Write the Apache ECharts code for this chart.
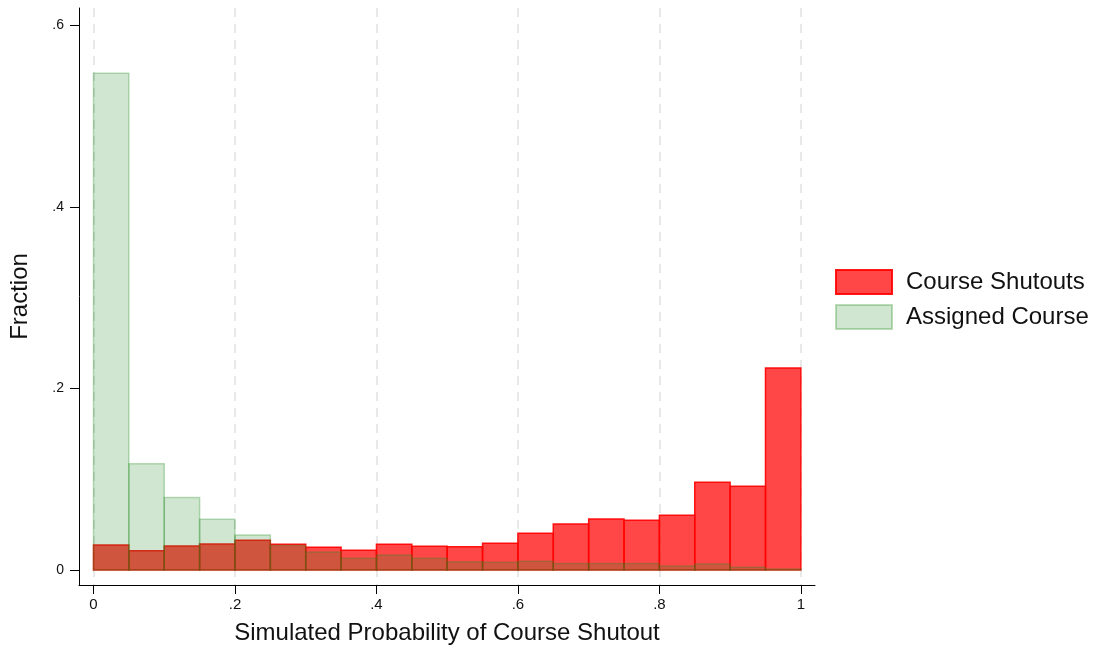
<!DOCTYPE html>
<html>
<head>
<meta charset="utf-8">
<script src="https://cdn.jsdelivr.net/npm/echarts@6/dist/echarts.min.js"></script>
<style>html,body{margin:0;padding:0;background:#fff;}#c{width:1095px;height:650px;}</style>
</head>
<body>
<div id="c"></div>
<script>
// Histogram bins (left edges), width 0.05
const binLeft = [0,0.05,0.1,0.15,0.2,0.25,0.3,0.35,0.4,0.45,0.5,0.55,0.6,0.65,0.7,0.75,0.8,0.85,0.9,0.95];
const binWidth = 0.05;
const shutoutFraction = [0.0275,0.0213,0.0264,0.0286,0.0327,0.0283,0.025,0.0217,0.0283,0.0261,0.0257,0.0294,0.0404,0.0507,0.0562,0.0547,0.0602,0.0966,0.0922,0.2225];
const assignedFraction = [0.547,0.117,0.080,0.0558,0.0385,0.027,0.0198,0.0129,0.0165,0.0129,0.0092,0.0085,0.0096,0.0073,0.0073,0.0073,0.0044,0.0066,0.003,0.001];
const xTicks = [0,0.2,0.4,0.6,0.8,1];
const yTicks = [0,0.2,0.4,0.6];
const seriesNames = ['Course Shutouts','Assigned Course'];

function fmt(v){ if (v === 0) return '0'; if (v === 1) return '1'; return String(+v.toFixed(1)).replace(/^0/,''); }

function makeData(vals){ return binLeft.map((l,i)=>[l, l+binWidth, vals[i]]); }

function renderBar(params, api){
  const p0 = api.coord([api.value(0), api.value(2)]);
  const p1 = api.coord([api.value(1), 0]);
  return {
    type: 'rect',
    shape: {x: p0[0], y: p0[1], width: p1[0]-p0[0], height: p1[1]-p0[1]},
    style: api.style()
  };
}

const chart = echarts.init(document.getElementById('c'), null, {renderer:'canvas'});
chart.setOption({
  animation: false,
  textStyle: {fontFamily: 'Liberation Sans, Arial, sans-serif'},
  grid: {left: 79, right: 280, top: 8, bottom: 65, containLabel: false},
  legend: {
    orient: 'vertical', left: 835, top: 269, padding: 0,
    itemWidth: 56, itemHeight: 24, itemGap: 9,
    icon: 'rect',
    textStyle: {fontSize: 24, color: '#111', padding: [0,0,0,9]},
    data: seriesNames
  },
  xAxis: {
    type: 'value', min: -0.0205, max: 1.02, splitNumber: 5,
    name: 'Simulated Probability of Course Shutout', nameLocation: 'middle', nameGap: 36,
    nameTextStyle: {fontSize: 24, color: '#111'},
    axisLine: {show: true, onZero: false, lineStyle: {color: '#000', width: 1}},
    axisTick: {show: true, length: 9, lineStyle: {color: '#000'}, customValues: xTicks},
    axisLabel: {fontSize: 15, color: '#111', margin: 12, customValues: xTicks, formatter: fmt},
    splitLine: {show: true, showMinLine: true, showMaxLine: true, lineStyle: {color: '#e8e8e8', width: 2, type: [9,7]}}
  },
  yAxis: {
    type: 'value', min: -0.0165, max: 0.619,
    name: 'Fraction', nameLocation: 'middle', nameGap: 47,
    nameTextStyle: {fontSize: 24, color: '#111'},
    axisLine: {show: true, onZero: false, lineStyle: {color: '#000', width: 1}},
    axisTick: {show: true, length: 9, lineStyle: {color: '#000'}, customValues: yTicks},
    axisLabel: {fontSize: 14, color: '#111', margin: 15, customValues: yTicks, formatter: fmt},
    splitLine: {show: false}
  },
  series: [
    {
      name: seriesNames[0], type: 'custom', renderItem: renderBar,
      encode: {x: [0,1], y: 2},
      itemStyle: {color: 'rgba(255,0,0,0.72)', borderColor: 'rgba(255,0,0,0.9)', borderWidth: 1.5},
      data: makeData(shutoutFraction), z: 2
    },
    {
      name: seriesNames[1], type: 'custom', renderItem: renderBar,
      encode: {x: [0,1], y: 2},
      itemStyle: {color: 'rgba(34,139,34,0.21)', borderColor: 'rgba(34,139,34,0.3)', borderWidth: 1.5},
      data: makeData(assignedFraction), z: 3
    }
  ]
});
</script>
</body>
</html>
